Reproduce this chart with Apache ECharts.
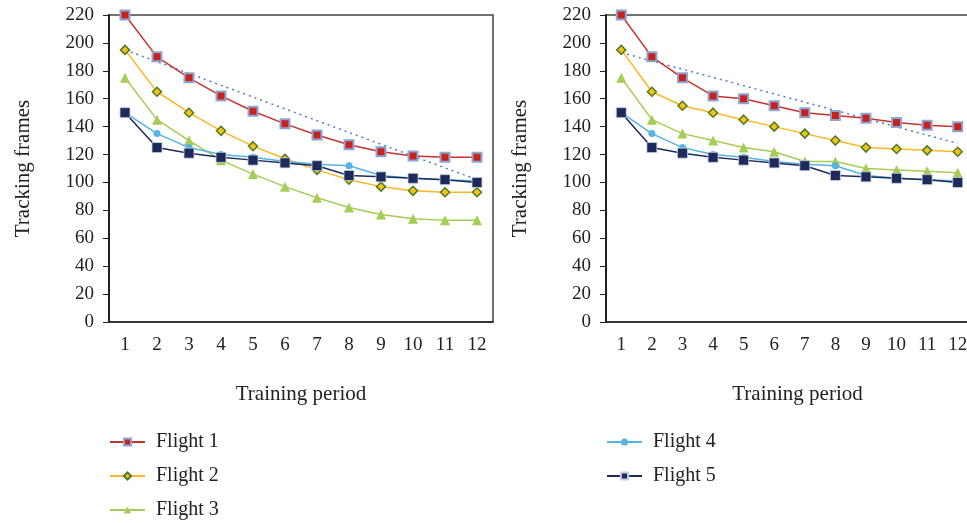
<!DOCTYPE html>
<html>
<head>
<meta charset="utf-8">
<script src="https://cdn.jsdelivr.net/npm/echarts@6/dist/echarts.min.js"></script>
<style>
  html, body { margin: 0; padding: 0; background: #fff; }
  #chart { width: 967px; height: 523px; }
</style>
</head>
<body>
<div id="chart"></div>
<script>
// training periods
var periods = ['1', '2', '3', '4', '5', '6', '7', '8', '9', '10', '11', '12']

// left panel
var leftFlight1 = [220, 190, 175, 162, 151, 142, 134, 127, 122, 119, 118, 118]
var leftFlight2 = [195, 165, 150, 137, 126, 117, 109, 102, 97, 94, 93, 93]
var leftFlight3 = [175, 145, 130, 116, 106, 97, 89, 82, 77, 74, 73, 73]
var leftFlight4 = [150, 135, 125, 120, 118, 115, 113, 112, 105, 103, 102, 101]
var leftFlight5 = [150, 125, 121, 118, 116, 114, 112, 105, 104, 103, 102, 100]
var leftTrend = [195, 102]   // dotted trend line, start / end

// right panel
var rightFlight1 = [220, 190, 175, 162, 160, 155, 150, 148, 146, 143, 141, 140]
var rightFlight2 = [195, 165, 155, 150, 145, 140, 135, 130, 125, 124, 123, 122]
var rightFlight3 = [175, 145, 135, 130, 125, 122, 115, 115, 110, 109, 108, 107]
var rightFlight4 = [150, 135, 125, 120, 118, 115, 113, 112, 105, 103, 102, 101]
var rightFlight5 = [150, 125, 121, 118, 116, 114, 112, 105, 104, 103, 102, 100]
var rightTrend = [193, 128]

var font = 'Liberation Serif'

// trend: only the end points, joined through the gap
function trendData (t) {
  var d = periods.map(function () { return '-' })
  d[0] = t[0]
  d[d.length - 1] = t[1]
  return d
}

function flightSeries (idx, data) {
  return [
    {
      name: 'trend', type: 'line', xAxisIndex: idx, yAxisIndex: idx,
      data: trendData(data.trend), connectNulls: true, symbol: 'none', silent: true,
      lineStyle: { color: '#4a7cc9', width: 1.5, type: [2, 4] }, z: 1
    },
    {
      name: 'Flight 3', type: 'line', xAxisIndex: idx, yAxisIndex: idx, data: data.f3,
      symbol: 'triangle', symbolSize: 10,
      lineStyle: { color: '#a5cd55', width: 1.5 },
      itemStyle: { color: '#a5cd55' }, z: 2
    },
    {
      name: 'Flight 2', type: 'line', xAxisIndex: idx, yAxisIndex: idx, data: data.f2,
      symbol: 'diamond', symbolSize: 9,
      lineStyle: { color: '#fdb726', width: 1.5 },
      itemStyle: { color: '#f5c21b', borderColor: '#4d7c1f', borderWidth: 1.5 }, z: 3
    },
    {
      name: 'Flight 4', type: 'line', xAxisIndex: idx, yAxisIndex: idx, data: data.f4,
      symbol: 'circle', symbolSize: 7,
      lineStyle: { color: '#55b4e2', width: 1.5 },
      itemStyle: { color: '#55b4e2' }, z: 4
    },
    {
      name: 'Flight 5', type: 'line', xAxisIndex: idx, yAxisIndex: idx, data: data.f5,
      symbol: 'rect', symbolSize: 10,
      lineStyle: { color: '#1d2a5c', width: 1.5 },
      itemStyle: { color: '#1d2a5c', borderColor: '#c8cfe0', borderWidth: 0.8 }, z: 5
    },
    {
      name: 'Flight 1', type: 'line', xAxisIndex: idx, yAxisIndex: idx, data: data.f1,
      symbol: 'rect', symbolSize: 9,
      lineStyle: { color: '#c8322d', width: 1.5 },
      itemStyle: { color: '#c8221e', borderColor: '#8ea6d4', borderWidth: 2 }, z: 6
    }
  ]
}

function xAxisOf (idx, nameShift) {
  return {
    type: 'category', gridIndex: idx, data: periods, boundaryGap: true,
    name: 'Training period', nameLocation: 'middle', nameGap: 62,
    nameTextStyle: { fontFamily: font, fontSize: 21, color: '#222', padding: [0, 0, 0, nameShift] },
    axisLine: { lineStyle: { color: '#222', width: 1.5 } },
    axisTick: { alignWithLabel: true, length: 6, lineStyle: { color: '#222' } },
    axisLabel: { fontFamily: font, fontSize: 19, color: '#222', margin: 14, interval: 0 },
    splitLine: { show: false }
  }
}

function yAxisOf (idx) {
  return {
    type: 'value', gridIndex: idx, min: 0, max: 220, interval: 20,
    name: 'Tracking frames', nameLocation: 'middle', nameGap: 75, nameRotate: 90,
    nameTextStyle: { fontFamily: font, fontSize: 21, color: '#222' },
    axisLine: { show: true, lineStyle: { color: '#222', width: 2 } },
    axisTick: { show: true, length: 6, lineStyle: { color: '#222' } },
    axisLabel: { fontFamily: font, fontSize: 19, color: '#222', margin: 15 },
    splitLine: { show: false }
  }
}

// one legend row per flight
function legendRow (name, left, top) {
  return {
    data: [name], orient: 'horizontal', left: left, top: top, padding: 0,
    itemWidth: 35, itemHeight: 9,
    textStyle: { fontFamily: font, fontSize: 20, color: '#222', padding: [0, 0, 0, 6] }
  }
}

var option = {
  backgroundColor: '#fff',
  animation: false,
  grid: [
    { left: 109, top: 15, width: 384, height: 307, show: true, borderColor: '#444', borderWidth: 1.5, backgroundColor: 'transparent', outerBoundsMode: 'none' },
    { left: 606, top: 15, width: 367, height: 307, show: true, borderColor: '#444', borderWidth: 1.5, backgroundColor: 'transparent', outerBoundsMode: 'none' }
  ],
  legend: [
    legendRow('Flight 1', 109, 432),
    legendRow('Flight 2', 109, 466),
    legendRow('Flight 3', 109, 500),
    legendRow('Flight 4', 606, 432),
    legendRow('Flight 5', 606, 466)
  ],
  xAxis: [xAxisOf(0, 0), xAxisOf(1, 16)],
  yAxis: [yAxisOf(0), yAxisOf(1)],
  series: flightSeries(0, { f1: leftFlight1, f2: leftFlight2, f3: leftFlight3, f4: leftFlight4, f5: leftFlight5, trend: leftTrend })
    .concat(flightSeries(1, { f1: rightFlight1, f2: rightFlight2, f3: rightFlight3, f4: rightFlight4, f5: rightFlight5, trend: rightTrend }))
}

var chart = echarts.init(document.getElementById('chart'))
chart.setOption(option)
</script>
</body>
</html>
